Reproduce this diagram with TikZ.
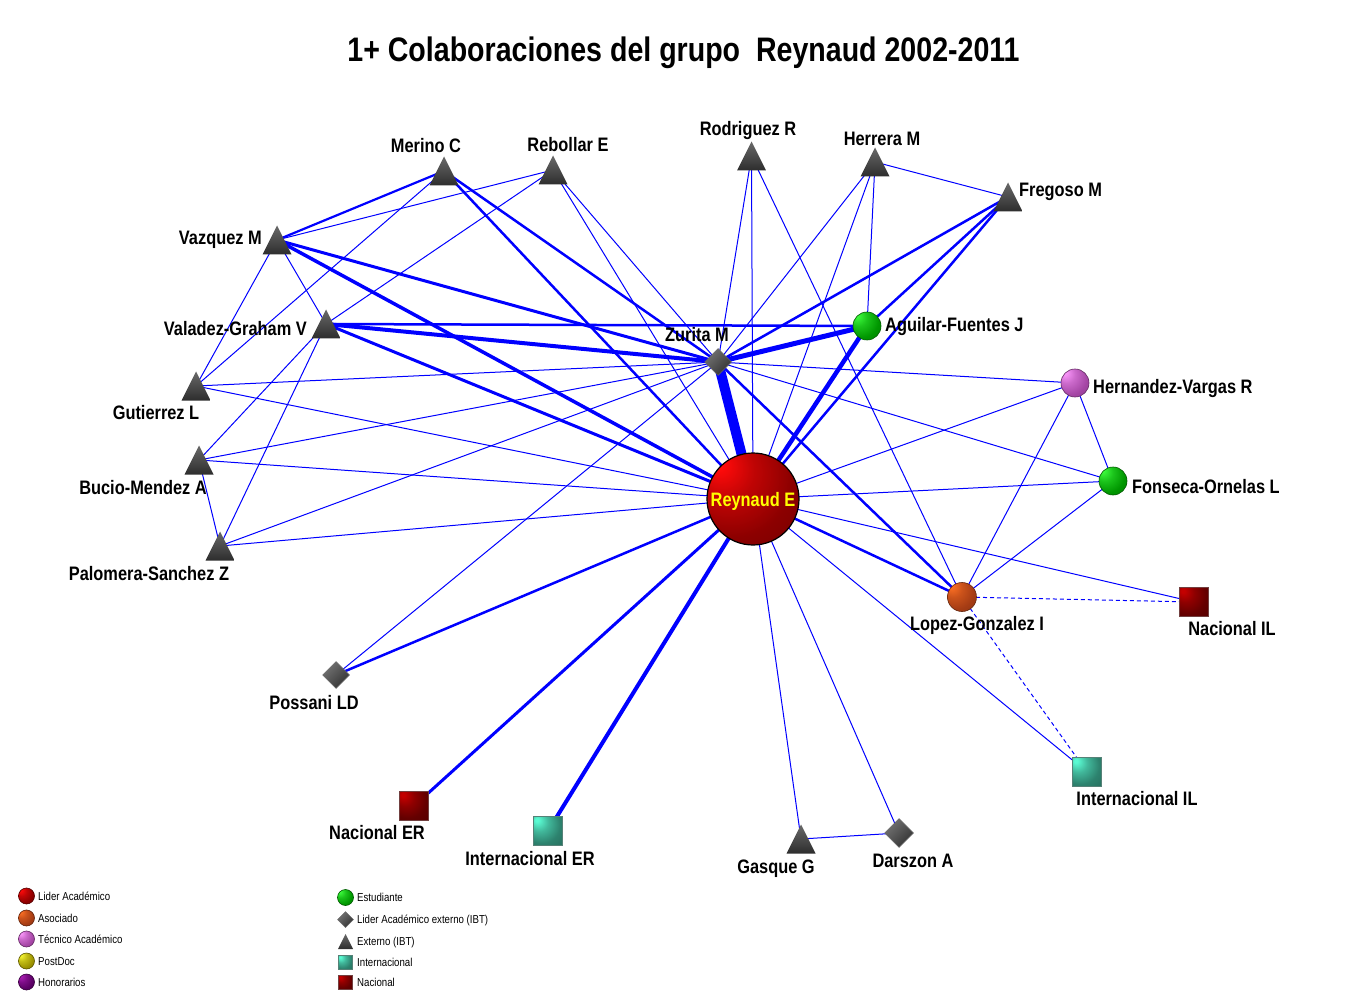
\documentclass[tikz,border=0pt]{standalone}
\usepackage{fontspec}
\setmainfont{Liberation Sans}
\newfontfamily\nf{Liberation Sans}[FakeStretch=0.84]
\usetikzlibrary{shapes.geometric}
\pgfdeclarelayer{bg}
\pgfsetlayers{bg,main}
\definecolor{edgeblue}{RGB}{0,0,255}
\definecolor{rhi}{RGB}{255,10,10}
\definecolor{rlo}{RGB}{140,0,0}
\definecolor{ghi}{RGB}{60,250,60}
\definecolor{glo}{RGB}{0,150,0}
\definecolor{phi}{RGB}{250,150,250}
\definecolor{plo}{RGB}{165,70,165}
\definecolor{ohi}{RGB}{250,110,35}
\definecolor{olo}{RGB}{165,60,20}
\definecolor{yhi}{RGB}{245,245,50}
\definecolor{ylo}{RGB}{155,145,0}
\definecolor{hhi}{RGB}{170,30,180}
\definecolor{hlo}{RGB}{90,0,100}
\definecolor{thi}{RGB}{90,250,210}
\definecolor{tlo}{RGB}{45,130,110}
\definecolor{nhi}{RGB}{195,0,0}
\definecolor{nlo}{RGB}{100,0,0}
\definecolor{trtop}{RGB}{105,105,105}
\definecolor{trbot}{RGB}{45,45,45}
\definecolor{dmtop}{RGB}{115,115,115}
\definecolor{dmbot}{RGB}{50,50,50}
\definecolor{reytext}{RGB}{255,255,0}
\colorlet{sphhi}{red}
\colorlet{sphlo}{black}
\pgfdeclareradialshading[sphhi,sphlo]{sphere}{\pgfpoint{-20bp}{20bp}}{color(0bp)=(sphhi); color(3bp)=(sphhi); color(16bp)=(sphhi!45!sphlo); color(32bp)=(sphlo); color(72bp)=(sphlo!60!black)}
\tikzset{
  sph/.style n args={2}{circle, inner sep=0pt, /utils/exec={\colorlet{sphhi}{#1}\colorlet{sphlo}{#2}}, shading=sphere, draw=#2!60!black, line width=0.6pt},
  sqr/.style n args={2}{rectangle, inner sep=0pt, /utils/exec={\colorlet{sphhi}{#1}\colorlet{sphlo}{#2}}, shading=sphere, draw=#2!50!gray, line width=0.6pt},
  tri/.style={rectangle, inner sep=0pt, minimum width=#1, minimum height=#1,
    path picture={\shade[top color=trtop, bottom color=trbot] (path picture bounding box.south west) -- (path picture bounding box.south east) -- (path picture bounding box.north) -- cycle;}},
  tri/.default=29pt,
  dia/.style={diamond, inner sep=0pt, minimum width=#1, minimum height=#1, top color=dmtop, bottom color=dmbot, shading angle=45, draw=black!60, line width=0.5pt},
  dia/.default=27pt,
  lbl/.style={font=\nf\bfseries\fontsize{19.5}{22}\selectfont, inner sep=0pt, text height=14pt, text depth=0pt},
  leg/.style={font=\nf\fontsize{11.5}{13}\selectfont, inner sep=0pt, text height=8.3pt, text depth=0pt, anchor=west},
  edge/.style={draw=edgeblue, line width=#1},
  dashedge/.style={draw=edgeblue, line width=1pt, dash pattern=on 4pt off 3pt}
}
\begin{document}
\begin{tikzpicture}[x=1pt,y=-1pt]
\useasboundingbox (0,0) rectangle (1350,1000);
% title
\node[font=\nf\bfseries\fontsize{34}{40}\selectfont, inner sep=0pt, text height=24.5pt, text depth=0pt] (title) at (683.5,49) {1+ Colaboraciones del grupo\ \ Reynaud 2002-2011};
% main nodes
\node[sph={rhi}{rlo}, minimum size=92pt, draw=black, line width=1.2pt] (rey) at (753,499) {};
\node[dia] (zur) at (718,362) {};
\node[sph={ghi}{glo}, minimum size=28pt] (agu) at (867,326) {};
\node[sph={phi}{plo}, minimum size=28pt] (hva) at (1075,383) {};
\node[sph={ghi}{glo}, minimum size=28pt] (fon) at (1113,481) {};
\node[sph={ohi}{olo}, minimum size=29pt] (lop) at (962,597) {};
\node[sqr={nhi}{nlo}, minimum size=29pt] (nil) at (1194,602) {};
\node[sqr={thi}{tlo}, minimum size=29pt] (iil) at (1087,772) {};
\node[dia=29pt] (dar) at (899,833) {};
\node[tri] (gas) at (801,839) {};
\node[sqr={thi}{tlo}, minimum size=29pt] (ier) at (548,831) {};
\node[sqr={nhi}{nlo}, minimum size=29pt] (ner) at (414,806) {};
\node[dia] (pos) at (336,675) {};
\node[tri] (pal) at (220,546) {};
\node[tri] (buc) at (199,460) {};
\node[tri] (gut) at (196,386) {};
\node[tri] (val) at (326,324) {};
\node[tri] (vaz) at (277,240) {};
\node[tri] (mer) at (444,171) {};
\node[tri] (reb) at (553,170) {};
\node[tri] (rod) at (751.5,156) {};
\node[tri] (her) at (875,162) {};
\node[tri] (fre) at (1008,197) {};
% edges
\begin{pgfonlayer}{bg}
\fill[white] (0,0) rectangle (1350,1000);
\foreach \a/\b/\w in {rey/zur/10, zur/agu/5, rey/agu/4.5, val/zur/4, val/rey/3, vaz/zur/3, vaz/rey/3.5,
  ier/rey/4, ner/rey/3, pos/rey/2.5, mer/zur/2.5, mer/rey/2.5, mer/vaz/2.2, fre/zur/2.5, fre/agu/2.5,
  fre/rey/2.5, val/agu/2.5, lop/zur/2.5, lop/rey/2.5,
  rod/zur/1, rod/rey/1, rod/lop/1, her/zur/1, her/rey/1, her/agu/1, her/fre/1,
  reb/zur/1, reb/rey/1, reb/vaz/1, reb/val/1, mer/gut/1, vaz/gut/1, vaz/val/1,
  val/buc/1, val/pal/1, buc/pal/1, gut/zur/1, gut/rey/1, buc/zur/1, buc/rey/1,
  pal/zur/1, pal/rey/1, pos/zur/1, hva/zur/1, hva/rey/1, hva/fon/1, hva/lop/1,
  fon/zur/1, fon/rey/1, fon/lop/1, nil/rey/1, iil/rey/1, gas/rey/1, dar/rey/1, gas/dar/1}
  \draw[edge=\w] (\a.center) -- (\b.center);
\draw[dashedge] (lop.center) -- (nil.center);
\draw[dashedge] (lop.center) -- (iil.center);
\end{pgfonlayer}
% labels
\node[lbl, text=reytext] (reyl) at (753,499) {Reynaud E};
\node[lbl] (zurl) at (697,335) {Zurita M};
\node[lbl, anchor=west] (agul) at (885,325) {Aguilar-Fuentes J};
\node[lbl, anchor=west] (hval) at (1093,386) {Hernandez-Vargas R};
\node[lbl, anchor=west] (fonl) at (1132,486) {Fonseca-Ornelas L};
\node[lbl] (lopl) at (977,623) {Lopez-Gonzalez I};
\node[lbl] (nill) at (1232,628) {Nacional IL};
\node[lbl] (iill) at (1137,798) {Internacional IL};
\node[lbl] (darl) at (913,860) {Darszon A};
\node[lbl] (gasl) at (776,866) {Gasque G};
\node[lbl] (ierl) at (530,858) {Internacional ER};
\node[lbl] (nerl) at (377,832) {Nacional ER};
\node[lbl] (posl) at (314,702) {Possani LD};
\node[lbl] (pall) at (149,573) {Palomera-Sanchez Z};
\node[lbl] (bucl) at (143,487) {Bucio-Mendez A};
\node[lbl] (gutl) at (156,413) {Gutierrez L};
\node[lbl, anchor=east] (vall) at (307,329) {Valadez-Graham V};
\node[lbl, anchor=east] (vazl) at (262,238) {Vazquez M};
\node[lbl] (merl) at (426,146) {Merino C};
\node[lbl] (rebl) at (568,145) {Rebollar E};
\node[lbl] (rodl) at (748,129) {Rodriguez R};
\node[lbl] (herl) at (882,139) {Herrera M};
\node[lbl, anchor=west] (frel) at (1019,190) {Fregoso M};
% legend
\node[sph={rhi}{rlo}, minimum size=16pt] (lg1) at (26.5,896) {};
\node[sph={ohi}{olo}, minimum size=16pt] (lg2) at (26.5,918) {};
\node[sph={phi}{plo}, minimum size=16pt] (lg3) at (26.5,939) {};
\node[sph={yhi}{ylo}, minimum size=16pt] (lg4) at (26.5,961) {};
\node[sph={hhi}{hlo}, minimum size=16pt] (lg5) at (26.5,982) {};
\node[leg] (lt1) at (38,896) {Lider Académico};
\node[leg] (lt2) at (38,918) {Asociado};
\node[leg] (lt3) at (38,939) {Técnico Académico};
\node[leg] (lt4) at (38,961) {PostDoc};
\node[leg] (lt5) at (38,982) {Honorarios};
\node[sph={ghi}{glo}, minimum size=16pt] (lg6) at (345.5,897.5) {};
\node[dia=16pt] (lg7) at (345.5,919.5) {};
\node[tri=15pt] (lg8) at (345.5,941.5) {};
\node[sqr={thi}{tlo}, minimum size=14pt] (lg9) at (345.5,962.5) {};
\node[sqr={nhi}{nlo}, minimum size=14pt] (lg10) at (345.5,982.5) {};
\node[leg] (lt6) at (357,897.5) {Estudiante};
\node[leg] (lt7) at (357,919.5) {Lider Académico externo (IBT)};
\node[leg] (lt8) at (357,941.5) {Externo (IBT)};
\node[leg] (lt9) at (357,962.5) {Internacional};
\node[leg] (lt10) at (357,982.5) {Nacional};
\end{tikzpicture}
\end{document}
